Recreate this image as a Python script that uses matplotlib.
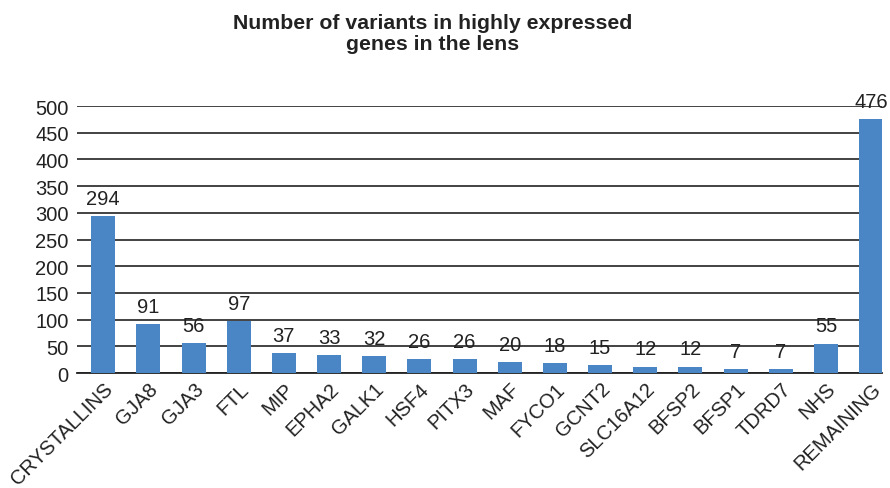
import matplotlib
matplotlib.use("Agg")
from matplotlib import pyplot as plt

plt.rcParams['font.family'] = ['Liberation Sans', 'DejaVu Sans']

genes = ["CRYSTALLINS", "GJA8", "GJA3", "FTL", "MIP", "EPHA2", "GALK1", "HSF4",
         "PITX3", "MAF", "FYCO1", "GCNT2", "SLC16A12", "BFSP2", "BFSP1", "TDRD7",
         "NHS", "REMAINING"]
variants = [294, 91, 56, 97, 37, 33, 32, 26, 26, 20, 18, 15, 12, 12, 7, 7, 55, 476]
yticks = [0, 50, 100, 150, 200, 250, 300, 350, 400, 450, 500]

fig = plt.figure(figsize=(8.9, 4.89), dpi=100)
ax = fig.add_axes([0.0865, 0.235, 0.905, 0.546])

x = range(len(genes))
bars = ax.bar(x, variants, width=0.53, color="#4a86c5", zorder=3)
for xi, v in zip(x, variants):
    ax.annotate(str(v), (xi, v), xytext=(0, 6), textcoords="offset points",
                ha="center", va="bottom", fontsize=14.5, color="#222222",
                annotation_clip=False)

ax.set_ylim(0, 500)
ax.set_xlim(-0.58, len(genes) - 0.75)
ax.set_yticks(yticks)
ax.yaxis.grid(True, color="#222222", linewidth=1.2, zorder=0)
ax.set_axisbelow(True)
for s in ["left", "right", "top"]:
    ax.spines[s].set_visible(False)
ax.spines["bottom"].set_color("#222222")
ax.spines["bottom"].set_linewidth(1.3)
ax.tick_params(axis="both", length=0, labelsize=14.5, colors="#222222")
ax.tick_params(axis="y", pad=6)
ax.tick_params(axis="x", pad=4)
ax.set_xticks(list(x))
ax.set_xticklabels(genes, rotation=45, ha="right", rotation_mode="anchor")

fig.text(0.486, 0.972, "Number of variants in highly expressed\ngenes in the lens",
         ha="center", va="top", fontsize=15.3, fontweight="bold", color="#222222",
         linespacing=1.15)

fig.savefig("out.png", dpi=100)
